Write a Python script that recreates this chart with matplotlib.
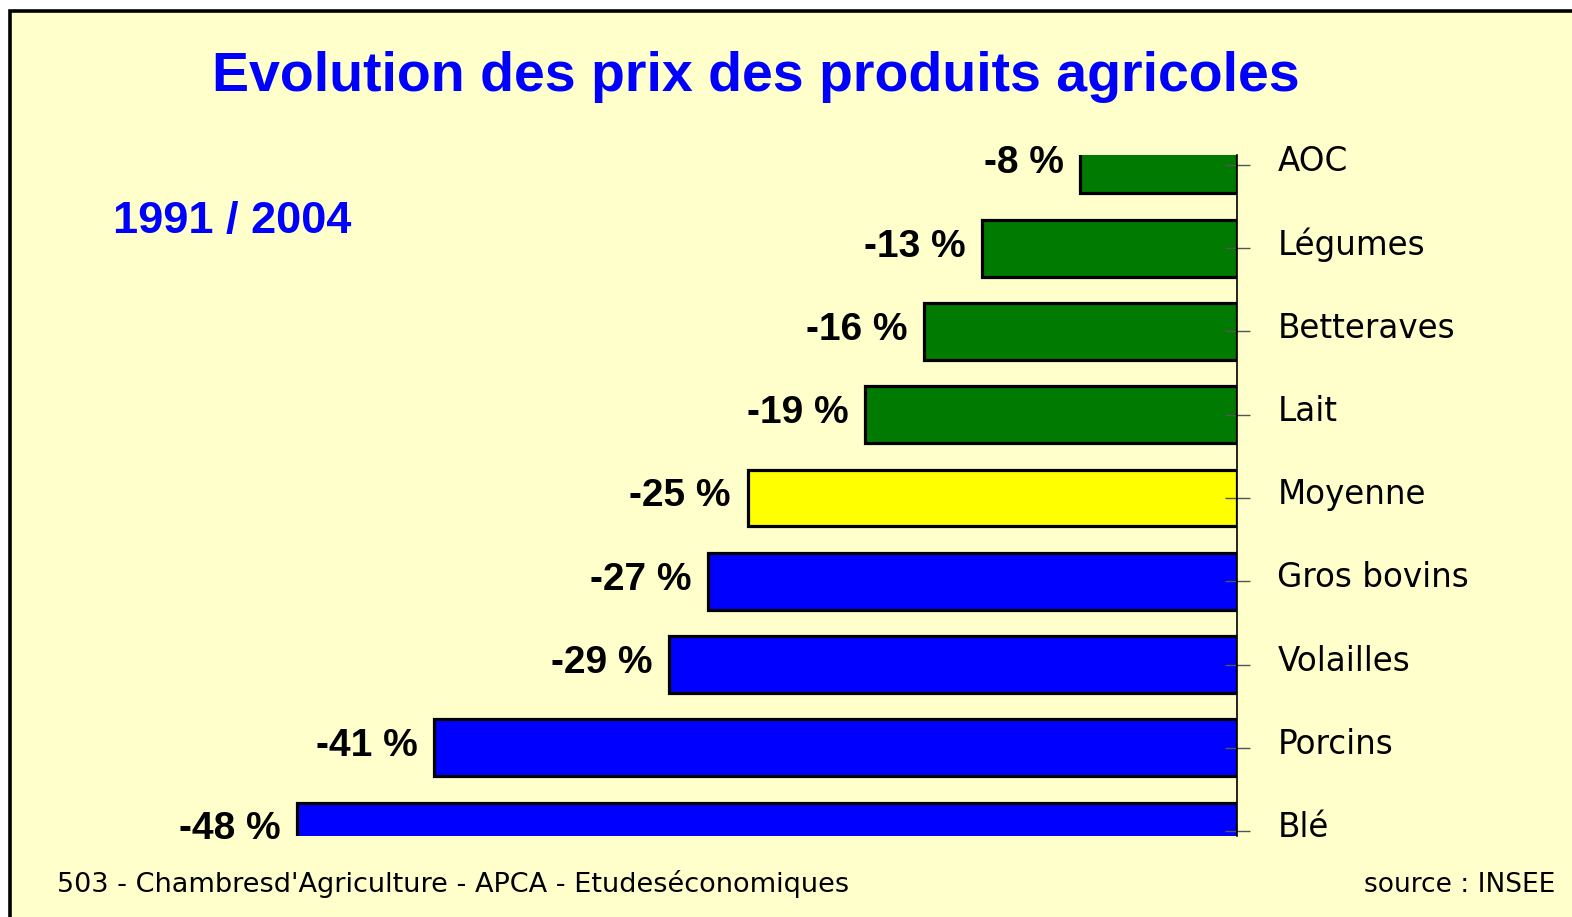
import matplotlib
matplotlib.use("Agg")
import matplotlib.pyplot as plt
from matplotlib.patches import Rectangle
from matplotlib.transforms import ScaledTranslation

categories = ["AOC", "Légumes", "Betteraves", "Lait", "Moyenne",
              "Gros bovins", "Volailles", "Porcins", "Blé"]
values = [-8, -13, -16, -19, -25, -27, -29, -41, -48]
colors = ["#007A00", "#007A00", "#007A00", "#007A00", "#FFFF00",
          "#0000FF", "#0000FF", "#0000FF", "#0000FF"]
value_labels = ["-8 %", "-13 %", "-16 %", "-19 %", "-25 %",
                "-27 %", "-29 %", "-41 %", "-48 %"]
title = "Evolution des prix des produits agricoles"
subtitle = "1991 / 2004"
footer_left = "503 - Chambresd'Agriculture - APCA - Etudeséconomiques"
footer_right = "source : INSEE"

W, H = 1572, 917
fig = plt.figure(figsize=(W / 100, H / 100), dpi=100)
fig.patch.set_facecolor("white")

# framed light-yellow background
bg = Rectangle((9.5 / W, -0.05), 1.2, 1 - 10.5 / H + 0.05,
               transform=fig.transFigure, facecolor="#FFFFCC",
               edgecolor="black", linewidth=2.6, zorder=-5)
fig.patches.append(bg)

ax = fig.add_axes([258 / W, 1 - 836 / H, (1237 - 258) / W, (836 - 155) / H])
ax.set_facecolor("none")
ax.set_zorder(1)
ax.set_axisbelow(False)

y = list(range(len(categories)))
ax.barh(y, values, height=0.68, color=colors, edgecolor="black",
        linewidth=2.3, zorder=2)

ax.set_xlim(-50, 0)
ax.set_ylim(8.06, -0.12)

for s in ["left", "top", "bottom"]:
    ax.spines[s].set_visible(False)
ax.spines["right"].set_linewidth(1.2)
ax.spines["right"].set_zorder(3)

ax.set_xticks([])
ax.yaxis.tick_right()
ax.set_yticks(y)
ax.set_yticklabels(categories, fontsize=23.5, family=["DejaVu Sans"])
ax.tick_params(axis="y", direction="inout", length=18, width=1.0,
               color="#555555", pad=20)
shift = ScaledTranslation(0, 5 / 72, fig.dpi_scale_trans)
for lbl in ax.get_yticklabels():
    lbl.set_transform(lbl.get_transform() + shift)

for yi, v, lab in zip(y, values, value_labels):
    ax.annotate(lab, xy=(v, yi), xytext=(-12, -6), textcoords="offset points",
                ha="right", va="baseline", fontsize=28, fontweight="bold",
                family=["Liberation Sans", "DejaVu Sans"],
                color="black", annotation_clip=False)

fig.text(756 / W, 1 - 91 / H, title, ha="center", va="baseline",
         fontsize=40, fontweight="bold", color="#0000FF",
         family=["Liberation Sans", "DejaVu Sans"])
fig.text(113 / W, 1 - 233 / H, subtitle, ha="left", va="baseline",
         fontsize=32.5, fontweight="bold", color="#0000FF",
         family=["Liberation Sans", "DejaVu Sans"])
fig.text(57 / W, 1 - 892 / H, footer_left, ha="left", va="baseline",
         fontsize=19.5, color="black", family=["DejaVu Sans"])
fig.text(1555 / W, 1 - 892 / H, footer_right, ha="right", va="baseline",
         fontsize=19, color="black", family=["DejaVu Sans"])

fig.savefig("out.png", dpi=100, facecolor=fig.get_facecolor())
